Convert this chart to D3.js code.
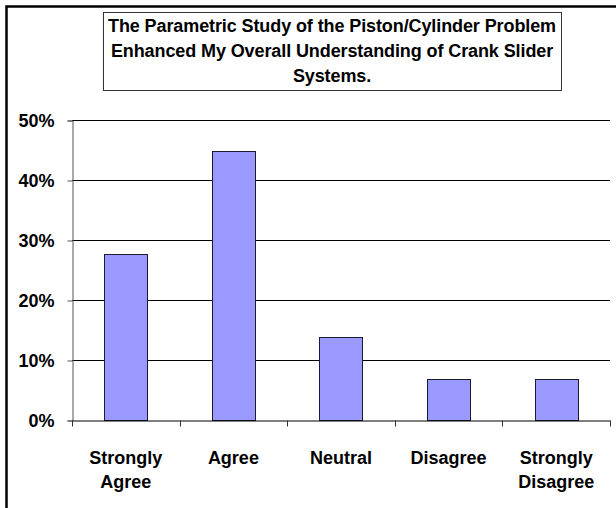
<!DOCTYPE html>
<html><head><meta charset="utf-8">
<script src="https://cdn.jsdelivr.net/npm/d3@7"></script>
<style>
html,body{margin:0;padding:0;background:#fff;}
svg{display:block;font-family:"Liberation Sans",Arial,sans-serif;}
</style></head>
<body>
<svg id="chart" width="616" height="508"></svg>
<script>
const titleLines = ["The Parametric Study of the Piston/Cylinder Problem",
                    "Enhanced My Overall Understanding of Crank Slider",
                    "Systems."];
const categories = ["Strongly Agree", "Agree", "Neutral", "Disagree", "Strongly Disagree"];
const categoryLines = [["Strongly","Agree"],["Agree"],["Neutral"],["Disagree"],["Strongly","Disagree"]];
const values = [0.276, 0.448, 0.138, 0.069, 0.069];
const yTicks = [0, 0.1, 0.2, 0.3, 0.4, 0.5];

const svg = d3.select("#chart");
const W = 616, H = 508;
const m = {left: 72, right: 6, top: 120, bottom: 88};

// outer frame (left & top visible)
svg.append("path").attr("d", `M6.5,${H} L6.5,6.5 L${W},6.5`)
  .attr("fill","none").attr("stroke","#000").attr("stroke-width",2.5);

// title box
svg.append("rect").attr("x",103.5).attr("y",12.5).attr("width",458).attr("height",78)
  .attr("fill","#fff").attr("stroke","#333").attr("stroke-width",1);
svg.append("g").selectAll("text").data(titleLines).join("text")
  .attr("x", 332).attr("y", (d,i)=> 32 + i*25)
  .attr("text-anchor","middle").attr("font-size",18).attr("font-weight","bold")
  .attr("letter-spacing","-0.1").text(d=>d);

const x = d3.scaleBand().domain(categories).range([m.left, W - m.right]).paddingInner(0).paddingOuter(0);
const y = d3.scaleLinear().domain([0, 0.5]).range([H - m.bottom, m.top]);

// gridlines
svg.append("g").selectAll("line").data(yTicks.filter(t=>t>0)).join("line")
  .attr("x1", m.left).attr("x2", W - m.right)
  .attr("y1", d=>Math.round(y(d))+0.5).attr("y2", d=>Math.round(y(d))+0.5)
  .attr("stroke","#000").attr("stroke-width",1);

// bars
const bw = x.bandwidth()*0.4;
svg.append("g").selectAll("rect").data(values).join("rect")
  .attr("x",(d,i)=> Math.round(x(categories[i]) + (x.bandwidth()-bw)/2)+0.5)
  .attr("y", d=> Math.round(y(d))+0.5)
  .attr("width", Math.round(bw))
  .attr("height", d=> Math.round(y(0)) - Math.round(y(d)))
  .attr("fill","#9999ff").attr("stroke","#1a1a33").attr("stroke-width",1);

// y axis
const yAxis = d3.axisLeft(y).tickValues(yTicks).tickFormat(d3.format(".0%")).tickSize(5).tickPadding(13);
const gy = svg.append("g").attr("transform",`translate(${m.left+0.5},0.5)`).call(yAxis);
gy.select(".domain").attr("stroke","#555");
gy.selectAll(".tick line").attr("stroke","#555");
gy.selectAll("text").attr("font-size",18).attr("font-weight","bold").attr("fill","#000")
  .attr("font-family","Liberation Sans, Arial, sans-serif");

// x axis
const xAxis = d3.axisBottom(x).tickSize(0).tickFormat("");
const gx = svg.append("g").attr("transform",`translate(0,${Math.round(y(0))+0.5})`).call(xAxis);
gx.select(".domain").attr("stroke","#000");
// category separator ticks
const edges = categories.map(c=>x(c)).concat([x.range()[1]]);
gx.selectAll("line.sep").data(edges).join("line").attr("class","sep")
  .attr("x1",d=>Math.round(d)+0.5).attr("x2",d=>Math.round(d)+0.5)
  .attr("y1",0).attr("y2",6).attr("stroke","#333");

// category labels
const lab = svg.append("g").selectAll("text").data(categories).join("text")
  .attr("x", d=> x(d) + x.bandwidth()/2)
  .attr("y", 464)
  .attr("text-anchor","middle").attr("font-size",18).attr("font-weight","bold");
lab.each(function(d,i){
  d3.select(this).selectAll("tspan").data(categoryLines[i]).join("tspan")
    .attr("x", x(d) + x.bandwidth()/2).attr("dy",(t,j)=> j===0?0:24).text(t=>t);
});
</script>
</body></html>
